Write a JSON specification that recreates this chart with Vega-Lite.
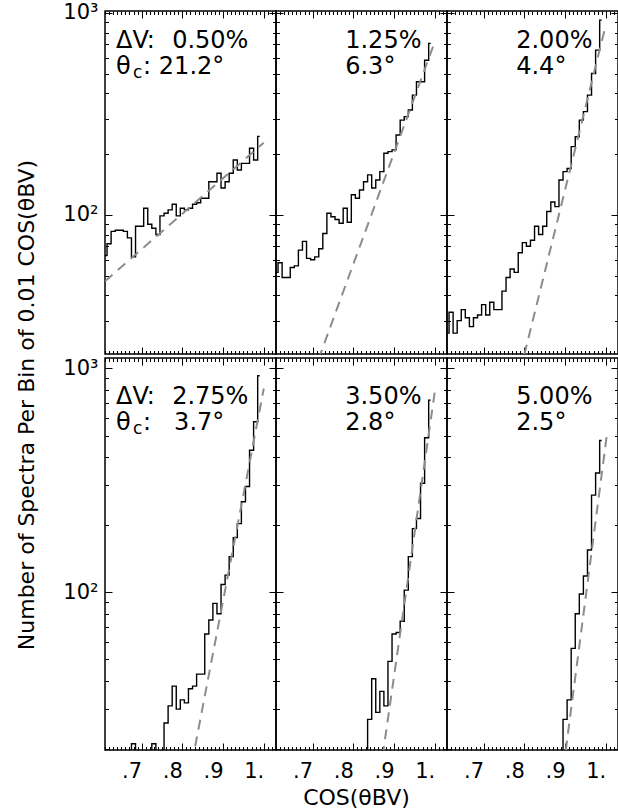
{
  "$schema": "https://vega.github.io/schema/vega-lite/v6.json",
  "background": "white",
  "padding": {"left": 16, "top": 1, "right": 0, "bottom": 0},
  "title": {"text": "Number of Spectra Per Bin of 0.01 COS(θBV)", "orient": "left", "anchor": "middle", "font": "DejaVu Sans", "fontSize": 22, "fontWeight": "normal", "color": "black", "offset": 23},
  "datasets": {
    "hist": [
      {"x":0.61,"a":63,"b":52,"c":26,"d":1,"e":1,"f":1},
      {"x":0.62,"a":72,"b":58,"c":33,"d":1,"e":1,"f":1},
      {"x":0.63,"a":83,"b":49,"c":26,"d":1,"e":1,"f":1},
      {"x":0.64,"a":84,"b":49,"c":30,"d":1,"e":1,"f":1},
      {"x":0.65,"a":84,"b":55,"c":34,"d":1,"e":1,"f":1},
      {"x":0.66,"a":83,"b":56,"c":31,"d":1,"e":1,"f":1},
      {"x":0.67,"a":77,"b":67,"c":28,"d":1,"e":1,"f":1},
      {"x":0.68,"a":62,"b":74,"c":31,"d":21,"e":1,"f":1},
      {"x":0.69,"a":88,"b":61,"c":32,"d":1,"e":1,"f":1},
      {"x":0.70,"a":88,"b":60,"c":36,"d":1,"e":1,"f":1},
      {"x":0.71,"a":108,"b":62,"c":32,"d":1,"e":1,"f":1},
      {"x":0.72,"a":90,"b":68,"c":37,"d":1,"e":1,"f":1},
      {"x":0.73,"a":86,"b":81,"c":34,"d":21,"e":1,"f":1},
      {"x":0.74,"a":80,"b":102,"c":34,"d":1,"e":1,"f":1},
      {"x":0.75,"a":99,"b":98,"c":42,"d":1,"e":1,"f":1},
      {"x":0.76,"a":102,"b":95,"c":49,"d":26,"e":1,"f":1},
      {"x":0.77,"a":106,"b":91,"c":54,"d":31,"e":1,"f":1},
      {"x":0.78,"a":113,"b":108,"c":52,"d":38,"e":1,"f":1},
      {"x":0.79,"a":99,"b":92,"c":65,"d":30,"e":1,"f":1},
      {"x":0.80,"a":108,"b":126,"c":73,"d":33,"e":1,"f":1},
      {"x":0.81,"a":106,"b":121,"c":70,"d":32,"e":1,"f":1},
      {"x":0.82,"a":108,"b":133,"c":75,"d":37,"e":1,"f":1},
      {"x":0.83,"a":113,"b":146,"c":88,"d":38,"e":1,"f":1},
      {"x":0.84,"a":115,"b":158,"c":80,"d":43,"e":27,"f":1},
      {"x":0.85,"a":121,"b":136,"c":88,"d":43,"e":41,"f":1},
      {"x":0.86,"a":121,"b":149,"c":104,"d":65,"e":29,"f":1},
      {"x":0.87,"a":146,"b":164,"c":116,"d":75,"e":36,"f":1},
      {"x":0.88,"a":146,"b":202,"c":110,"d":89,"e":31,"f":1},
      {"x":0.89,"a":161,"b":206,"c":149,"d":80,"e":49,"f":1},
      {"x":0.90,"a":136,"b":210,"c":164,"d":108,"e":65,"f":27},
      {"x":0.91,"a":146,"b":249,"c":170,"d":119,"e":66,"f":33},
      {"x":0.92,"a":161,"b":295,"c":218,"d":144,"e":74,"f":56},
      {"x":0.93,"a":187,"b":307,"c":244,"d":175,"e":102,"f":80},
      {"x":0.94,"a":167,"b":331,"c":295,"d":202,"e":144,"f":98},
      {"x":0.95,"a":180,"b":392,"c":325,"d":253,"e":192,"f":118},
      {"x":0.96,"a":180,"b":457,"c":392,"d":296,"e":213,"f":154},
      {"x":0.97,"a":214,"b":457,"c":502,"d":430,"e":306,"f":271},
      {"x":0.98,"a":187,"b":584,"c":655,"d":576,"e":489,"f":340},
      {"x":0.99,"a":245,"b":707,"c":922,"d":925,"e":720,"f":475}
    ],
    "fit": [
      {"p":1,"x":0.61,"n":47},{"p":1,"x":1.0,"n":228},
      {"p":2,"x":0.70,"n":16.1},{"p":2,"x":1.0,"n":720},
      {"p":3,"x":0.78,"n":14.0},{"p":3,"x":1.0,"n":872},
      {"p":4,"x":0.80,"n":10.3},{"p":4,"x":1.0,"n":811},
      {"p":5,"x":0.86,"n":13.1},{"p":5,"x":1.0,"n":784},
      {"p":6,"x":0.88,"n":9.8},{"p":6,"x":1.003,"n":510}
    ],
    "lab": [
      {"p":1,"dv":"0.50%","tc":"21.2°"},
      {"p":2,"dv":"1.25%","tc":"6.3°"},
      {"p":3,"dv":"2.00%","tc":"4.4°"},
      {"p":4,"dv":"2.75%","tc":"3.7°"},
      {"p":5,"dv":"3.50%","tc":"2.8°"},
      {"p":6,"dv":"5.00%","tc":"2.5°"}
    ]
  },
  "config": {
    "view": {"stroke": "black", "strokeWidth": 1.5},
    "axis": {"domain": false, "grid": false, "tickColor": "black", "tickWidth": 1, "labelFont": "DejaVu Sans", "labelFontSize": 21, "labelColor": "black", "titleFont": "DejaVu Sans", "titleFontSize": 22, "titleFontWeight": "normal", "titleColor": "black", "labelOverlap": false, "labelFlush": false},
    "text": {"font": "DejaVu Sans", "fontSize": 24, "color": "black", "baseline": "alphabetic"},
    "concat": {"spacing": 0}
  },
  "vconcat": [
    {"hconcat": [
      {"width": 171, "height": 343, "resolve": {"axis": {"x": "independent", "y": "independent"}},
       "layer": [
        {"data": {"name": "hist"}, "mark": {"type": "line", "interpolate": "step", "color": "black", "strokeWidth": 1.4, "clip": true},
         "encoding": {
          "x": {"field": "x", "type": "quantitative", "scale": {"domain": [0.61, 1.03], "nice": false, "zero": false}, "axis": {"orient": "bottom", "labels": false, "tickCount": 42, "tickSize": {"condition": {"test": "abs(datum.value*10-round(datum.value*10))<0.001", "value": -7}, "value": -3.5}, "title": null}},
          "y": {"field": "a", "type": "quantitative", "scale": {"type": "log", "domain": [20.5, 1023], "nice": false}, "axis": {"orient": "left", "values": [30,40,50,60,70,80,90,100,200,300,400,500,600,700,800,900,1000], "labelExpr": "datum.value==100?'10²':datum.value==1000?'10³':''", "tickSize": {"condition": {"test": "datum.value==100||datum.value==1000", "value": -7}, "value": -3.5}, "labelPadding": 14, "title": null}}}},
        {"data": {"name": "fit"}, "transform": [{"filter": "datum.p == 1"}], "mark": {"type": "line", "color": "#8c8c8c", "strokeWidth": 2, "strokeDash": [10, 7], "clip": true},
         "encoding": {
          "x": {"field": "x", "type": "quantitative", "axis": {"orient": "top", "labels": false, "tickCount": 42, "tickSize": {"condition": {"test": "abs(datum.value*10-round(datum.value*10))<0.001", "value": -7}, "value": -3.5}, "title": null}},
          "y": {"field": "n", "type": "quantitative", "axis": {"orient": "right", "labels": false, "values": [30,40,50,60,70,80,90,100,200,300,400,500,600,700,800,900,1000], "tickSize": {"condition": {"test": "datum.value==100||datum.value==1000", "value": -7}, "value": -3.5}, "title": null}}}},
        {"data": {"name": "lab"}, "transform": [{"filter": "datum.p == 1"}], "mark": {"type": "text", "align": "left", "text": "ΔV:"},
         "encoding": {"x": {"datum": 0.637, "type": "quantitative", "axis": null}, "y": {"datum": 671, "type": "quantitative", "axis": null}}},
        {"data": {"name": "lab"}, "transform": [{"filter": "datum.p == 1"}], "mark": {"type": "text", "align": "left"},
         "encoding": {"x": {"datum": 0.775, "type": "quantitative", "axis": null}, "y": {"datum": 671, "type": "quantitative", "axis": null}, "text": {"field": "dv"}}},
        {"data": {"name": "lab"}, "transform": [{"filter": "datum.p == 1"}], "mark": {"type": "text", "align": "left", "text": "θ"},
         "encoding": {"x": {"datum": 0.637, "type": "quantitative", "axis": null}, "y": {"datum": 499, "type": "quantitative", "axis": null}}},
        {"data": {"name": "lab"}, "transform": [{"filter": "datum.p == 1"}], "mark": {"type": "text", "align": "left", "text": "c", "fontSize": 17, "dx": 17, "dy": 4},
         "encoding": {"x": {"datum": 0.637, "type": "quantitative", "axis": null}, "y": {"datum": 499, "type": "quantitative", "axis": null}}},
        {"data": {"name": "lab"}, "transform": [{"filter": "datum.p == 1"}], "mark": {"type": "text", "align": "left", "text": ":", "dx": 27},
         "encoding": {"x": {"datum": 0.637, "type": "quantitative", "axis": null}, "y": {"datum": 499, "type": "quantitative", "axis": null}}},
        {"data": {"name": "lab"}, "transform": [{"filter": "datum.p == 1"}], "mark": {"type": "text", "align": "right"},
         "encoding": {"x": {"datum": 0.903, "type": "quantitative", "axis": null}, "y": {"datum": 499, "type": "quantitative", "axis": null}, "text": {"field": "tc"}}}
       ]},
      {"width": 171, "height": 343, "resolve": {"axis": {"x": "independent", "y": "independent"}},
       "layer": [
        {"data": {"name": "hist"}, "mark": {"type": "line", "interpolate": "step", "color": "black", "strokeWidth": 1.4, "clip": true},
         "encoding": {
          "x": {"field": "x", "type": "quantitative", "scale": {"domain": [0.61, 1.03], "nice": false, "zero": false}, "axis": {"orient": "bottom", "labels": false, "tickCount": 42, "tickSize": {"condition": {"test": "abs(datum.value*10-round(datum.value*10))<0.001", "value": -7}, "value": -3.5}, "title": null}},
          "y": {"field": "b", "type": "quantitative", "scale": {"type": "log", "domain": [20.5, 1023], "nice": false}, "axis": {"orient": "left", "labels": false, "values": [30,40,50,60,70,80,90,100,200,300,400,500,600,700,800,900,1000], "tickSize": {"condition": {"test": "datum.value==100||datum.value==1000", "value": -7}, "value": -3.5}, "title": null}}}},
        {"data": {"name": "fit"}, "transform": [{"filter": "datum.p == 2"}], "mark": {"type": "line", "color": "#8c8c8c", "strokeWidth": 2, "strokeDash": [10, 7], "clip": true},
         "encoding": {
          "x": {"field": "x", "type": "quantitative", "axis": {"orient": "top", "labels": false, "tickCount": 42, "tickSize": {"condition": {"test": "abs(datum.value*10-round(datum.value*10))<0.001", "value": -7}, "value": -3.5}, "title": null}},
          "y": {"field": "n", "type": "quantitative", "axis": {"orient": "right", "labels": false, "values": [30,40,50,60,70,80,90,100,200,300,400,500,600,700,800,900,1000], "tickSize": {"condition": {"test": "datum.value==100||datum.value==1000", "value": -7}, "value": -3.5}, "title": null}}}},
        {"data": {"name": "lab"}, "transform": [{"filter": "datum.p == 2"}], "mark": {"type": "text", "align": "left"},
         "encoding": {"x": {"datum": 0.78, "type": "quantitative", "axis": null}, "y": {"datum": 671, "type": "quantitative", "axis": null}, "text": {"field": "dv"}}},
        {"data": {"name": "lab"}, "transform": [{"filter": "datum.p == 2"}], "mark": {"type": "text", "align": "left"},
         "encoding": {"x": {"datum": 0.78, "type": "quantitative", "axis": null}, "y": {"datum": 499, "type": "quantitative", "axis": null}, "text": {"field": "tc"}}}
       ]},
      {"width": 171, "height": 343, "resolve": {"axis": {"x": "independent", "y": "independent"}},
       "layer": [
        {"data": {"name": "hist"}, "mark": {"type": "line", "interpolate": "step", "color": "black", "strokeWidth": 1.4, "clip": true},
         "encoding": {
          "x": {"field": "x", "type": "quantitative", "scale": {"domain": [0.61, 1.03], "nice": false, "zero": false}, "axis": {"orient": "bottom", "labels": false, "tickCount": 42, "tickSize": {"condition": {"test": "abs(datum.value*10-round(datum.value*10))<0.001", "value": -7}, "value": -3.5}, "title": null}},
          "y": {"field": "c", "type": "quantitative", "scale": {"type": "log", "domain": [20.5, 1023], "nice": false}, "axis": {"orient": "left", "labels": false, "values": [30,40,50,60,70,80,90,100,200,300,400,500,600,700,800,900,1000], "tickSize": {"condition": {"test": "datum.value==100||datum.value==1000", "value": -7}, "value": -3.5}, "title": null}}}},
        {"data": {"name": "fit"}, "transform": [{"filter": "datum.p == 3"}], "mark": {"type": "line", "color": "#8c8c8c", "strokeWidth": 2, "strokeDash": [10, 7], "clip": true},
         "encoding": {
          "x": {"field": "x", "type": "quantitative", "axis": {"orient": "top", "labels": false, "tickCount": 42, "tickSize": {"condition": {"test": "abs(datum.value*10-round(datum.value*10))<0.001", "value": -7}, "value": -3.5}, "title": null}},
          "y": {"field": "n", "type": "quantitative", "axis": {"orient": "right", "labels": false, "values": [30,40,50,60,70,80,90,100,200,300,400,500,600,700,800,900,1000], "tickSize": {"condition": {"test": "datum.value==100||datum.value==1000", "value": -7}, "value": -3.5}, "title": null}}}},
        {"data": {"name": "lab"}, "transform": [{"filter": "datum.p == 3"}], "mark": {"type": "text", "align": "left"},
         "encoding": {"x": {"datum": 0.78, "type": "quantitative", "axis": null}, "y": {"datum": 671, "type": "quantitative", "axis": null}, "text": {"field": "dv"}}},
        {"data": {"name": "lab"}, "transform": [{"filter": "datum.p == 3"}], "mark": {"type": "text", "align": "left"},
         "encoding": {"x": {"datum": 0.78, "type": "quantitative", "axis": null}, "y": {"datum": 499, "type": "quantitative", "axis": null}, "text": {"field": "tc"}}}
       ]}
    ], "bounds": "flush"},
    {"hconcat": [
      {"width": 171, "height": 392, "resolve": {"axis": {"x": "independent", "y": "independent"}},
       "layer": [
        {"data": {"name": "hist"}, "mark": {"type": "line", "interpolate": "step", "color": "black", "strokeWidth": 1.4, "clip": true},
         "encoding": {
          "x": {"field": "x", "type": "quantitative", "scale": {"domain": [0.61, 1.03], "nice": false, "zero": false}, "axis": {"orient": "bottom", "tickCount": 42, "labelExpr": "abs(datum.value*10-round(datum.value*10))<0.001 ? (round(datum.value*10)==10 ? '1.' : '.'+round(datum.value*10)) : ''", "labelAlign": "right", "labelPadding": 17, "tickSize": {"condition": {"test": "abs(datum.value*10-round(datum.value*10))<0.001", "value": -7}, "value": -3.5}, "title": null}},
          "y": {"field": "d", "type": "quantitative", "scale": {"type": "log", "domain": [19.7, 1110], "nice": false}, "axis": {"orient": "left", "values": [20,30,40,50,60,70,80,90,100,200,300,400,500,600,700,800,900,1000], "labelExpr": "datum.value==100?'10²':datum.value==1000?'10³':''", "tickSize": {"condition": {"test": "datum.value==100||datum.value==1000", "value": -7}, "value": -3.5}, "labelPadding": 14, "title": null}}}},
        {"data": {"name": "fit"}, "transform": [{"filter": "datum.p == 4"}], "mark": {"type": "line", "color": "#8c8c8c", "strokeWidth": 2, "strokeDash": [10, 7], "clip": true},
         "encoding": {
          "x": {"field": "x", "type": "quantitative", "axis": {"orient": "top", "labels": false, "tickCount": 42, "tickSize": {"condition": {"test": "abs(datum.value*10-round(datum.value*10))<0.001", "value": -7}, "value": -3.5}, "title": null}},
          "y": {"field": "n", "type": "quantitative", "axis": {"orient": "right", "labels": false, "values": [20,30,40,50,60,70,80,90,100,200,300,400,500,600,700,800,900,1000], "tickSize": {"condition": {"test": "datum.value==100||datum.value==1000", "value": -7}, "value": -3.5}, "title": null}}}},
        {"data": {"name": "lab"}, "transform": [{"filter": "datum.p == 4"}], "mark": {"type": "text", "align": "left", "text": "ΔV:"},
         "encoding": {"x": {"datum": 0.637, "type": "quantitative", "axis": null}, "y": {"datum": 689, "type": "quantitative", "axis": null}}},
        {"data": {"name": "lab"}, "transform": [{"filter": "datum.p == 4"}], "mark": {"type": "text", "align": "left"},
         "encoding": {"x": {"datum": 0.775, "type": "quantitative", "axis": null}, "y": {"datum": 689, "type": "quantitative", "axis": null}, "text": {"field": "dv"}}},
        {"data": {"name": "lab"}, "transform": [{"filter": "datum.p == 4"}], "mark": {"type": "text", "align": "left", "text": "θ"},
         "encoding": {"x": {"datum": 0.637, "type": "quantitative", "axis": null}, "y": {"datum": 530, "type": "quantitative", "axis": null}}},
        {"data": {"name": "lab"}, "transform": [{"filter": "datum.p == 4"}], "mark": {"type": "text", "align": "left", "text": "c", "fontSize": 17, "dx": 17, "dy": 4},
         "encoding": {"x": {"datum": 0.637, "type": "quantitative", "axis": null}, "y": {"datum": 530, "type": "quantitative", "axis": null}}},
        {"data": {"name": "lab"}, "transform": [{"filter": "datum.p == 4"}], "mark": {"type": "text", "align": "left", "text": ":", "dx": 27},
         "encoding": {"x": {"datum": 0.637, "type": "quantitative", "axis": null}, "y": {"datum": 530, "type": "quantitative", "axis": null}}},
        {"data": {"name": "lab"}, "transform": [{"filter": "datum.p == 4"}], "mark": {"type": "text", "align": "right"},
         "encoding": {"x": {"datum": 0.903, "type": "quantitative", "axis": null}, "y": {"datum": 530, "type": "quantitative", "axis": null}, "text": {"field": "tc"}}}
       ]},
      {"width": 171, "height": 392, "resolve": {"axis": {"x": "independent", "y": "independent"}},
       "layer": [
        {"data": {"name": "hist"}, "mark": {"type": "line", "interpolate": "step", "color": "black", "strokeWidth": 1.4, "clip": true},
         "encoding": {
          "x": {"field": "x", "type": "quantitative", "scale": {"domain": [0.61, 1.03], "nice": false, "zero": false}, "axis": {"orient": "bottom", "tickCount": 42, "labelExpr": "abs(datum.value*10-round(datum.value*10))<0.001 ? (round(datum.value*10)==10 ? '1.' : '.'+round(datum.value*10)) : ''", "labelAlign": "right", "labelPadding": 17, "tickSize": {"condition": {"test": "abs(datum.value*10-round(datum.value*10))<0.001", "value": -7}, "value": -3.5}, "title": "COS(θBV)", "titleFontSize": 22, "titleX": 80, "titleY": 47, "titleBaseline": "middle", "titleAlign": "center"}},
          "y": {"field": "e", "type": "quantitative", "scale": {"type": "log", "domain": [19.7, 1110], "nice": false}, "axis": {"orient": "left", "labels": false, "values": [20,30,40,50,60,70,80,90,100,200,300,400,500,600,700,800,900,1000], "tickSize": {"condition": {"test": "datum.value==100||datum.value==1000", "value": -7}, "value": -3.5}, "title": null}}}},
        {"data": {"name": "fit"}, "transform": [{"filter": "datum.p == 5"}], "mark": {"type": "line", "color": "#8c8c8c", "strokeWidth": 2, "strokeDash": [10, 7], "clip": true},
         "encoding": {
          "x": {"field": "x", "type": "quantitative", "axis": {"orient": "top", "labels": false, "tickCount": 42, "tickSize": {"condition": {"test": "abs(datum.value*10-round(datum.value*10))<0.001", "value": -7}, "value": -3.5}, "title": null}},
          "y": {"field": "n", "type": "quantitative", "axis": {"orient": "right", "labels": false, "values": [20,30,40,50,60,70,80,90,100,200,300,400,500,600,700,800,900,1000], "tickSize": {"condition": {"test": "datum.value==100||datum.value==1000", "value": -7}, "value": -3.5}, "title": null}}}},
        {"data": {"name": "lab"}, "transform": [{"filter": "datum.p == 5"}], "mark": {"type": "text", "align": "left"},
         "encoding": {"x": {"datum": 0.78, "type": "quantitative", "axis": null}, "y": {"datum": 689, "type": "quantitative", "axis": null}, "text": {"field": "dv"}}},
        {"data": {"name": "lab"}, "transform": [{"filter": "datum.p == 5"}], "mark": {"type": "text", "align": "left"},
         "encoding": {"x": {"datum": 0.78, "type": "quantitative", "axis": null}, "y": {"datum": 530, "type": "quantitative", "axis": null}, "text": {"field": "tc"}}}
       ]},
      {"width": 171, "height": 392, "resolve": {"axis": {"x": "independent", "y": "independent"}},
       "layer": [
        {"data": {"name": "hist"}, "mark": {"type": "line", "interpolate": "step", "color": "black", "strokeWidth": 1.4, "clip": true},
         "encoding": {
          "x": {"field": "x", "type": "quantitative", "scale": {"domain": [0.61, 1.03], "nice": false, "zero": false}, "axis": {"orient": "bottom", "tickCount": 42, "labelExpr": "abs(datum.value*10-round(datum.value*10))<0.001 ? (round(datum.value*10)==10 ? '1.' : '.'+round(datum.value*10)) : ''", "labelAlign": "right", "labelPadding": 17, "tickSize": {"condition": {"test": "abs(datum.value*10-round(datum.value*10))<0.001", "value": -7}, "value": -3.5}, "title": null}},
          "y": {"field": "f", "type": "quantitative", "scale": {"type": "log", "domain": [19.7, 1110], "nice": false}, "axis": {"orient": "left", "labels": false, "values": [20,30,40,50,60,70,80,90,100,200,300,400,500,600,700,800,900,1000], "tickSize": {"condition": {"test": "datum.value==100||datum.value==1000", "value": -7}, "value": -3.5}, "title": null}}}},
        {"data": {"name": "fit"}, "transform": [{"filter": "datum.p == 6"}], "mark": {"type": "line", "color": "#8c8c8c", "strokeWidth": 2, "strokeDash": [10, 7], "clip": true},
         "encoding": {
          "x": {"field": "x", "type": "quantitative", "axis": {"orient": "top", "labels": false, "tickCount": 42, "tickSize": {"condition": {"test": "abs(datum.value*10-round(datum.value*10))<0.001", "value": -7}, "value": -3.5}, "title": null}},
          "y": {"field": "n", "type": "quantitative", "axis": {"orient": "right", "labels": false, "values": [20,30,40,50,60,70,80,90,100,200,300,400,500,600,700,800,900,1000], "tickSize": {"condition": {"test": "datum.value==100||datum.value==1000", "value": -7}, "value": -3.5}, "title": null}}}},
        {"data": {"name": "lab"}, "transform": [{"filter": "datum.p == 6"}], "mark": {"type": "text", "align": "left"},
         "encoding": {"x": {"datum": 0.78, "type": "quantitative", "axis": null}, "y": {"datum": 689, "type": "quantitative", "axis": null}, "text": {"field": "dv"}}},
        {"data": {"name": "lab"}, "transform": [{"filter": "datum.p == 6"}], "mark": {"type": "text", "align": "left"},
         "encoding": {"x": {"datum": 0.78, "type": "quantitative", "axis": null}, "y": {"datum": 530, "type": "quantitative", "axis": null}, "text": {"field": "tc"}}}
       ]}
    ], "bounds": "flush"}
  ]
}
